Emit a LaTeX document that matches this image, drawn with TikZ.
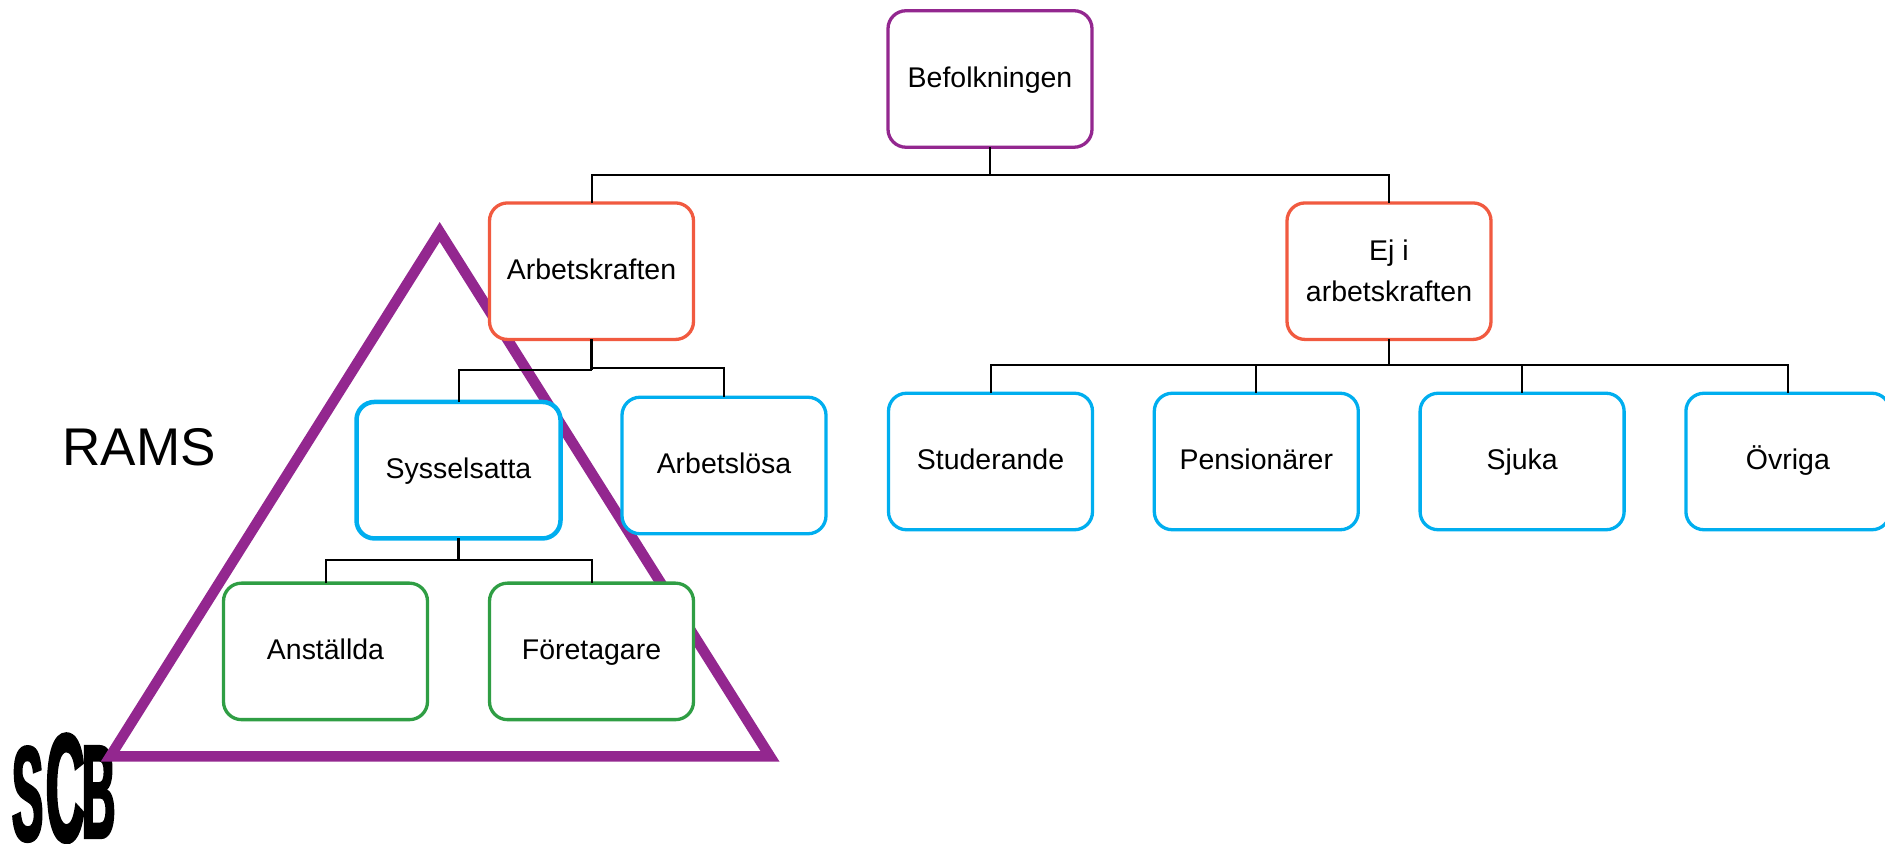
\documentclass[tikz,border=0pt]{standalone}
\usepackage{fontspec}
\setmainfont{Liberation Sans}
\newfontfamily\logofont[FakeStretch=0.345,FakeBold=1.7]{Liberation Sans Bold}
\usetikzlibrary{positioning}
\definecolor{ramspurple}{HTML}{93278F}
\definecolor{kraftred}{HTML}{F15A40}
\definecolor{groupblue}{HTML}{00AEEF}
\definecolor{workgreen}{HTML}{2F9E44}
\begin{document}
\begin{tikzpicture}[
    box/.style={rectangle, draw=black, fill=white, rounded corners=0.18cm, line width=0.033cm, outer sep=0pt, minimum width=2.04cm, minimum height=1.365cm, align=center, font=\fontsize{8.1}{11.7}\selectfont},
    one_line/.style={text height=0.25cm, text depth=0.086cm},
    top_box/.style={box, one_line, draw=ramspurple},
    kraft_box/.style={box, draw=kraftred},
    group_box/.style={box, one_line, draw=groupblue},
    syssel_box/.style={box, one_line, draw=groupblue, line width=0.045cm},
    work_box/.style={box, one_line, draw=workgreen},
    link/.style={draw=black, line width=0.02cm},
    stem/.style={draw=black, line width=0.025cm},
    logo/.style={inner sep=0pt, outer sep=0pt, anchor=south west}
]
    \useasboundingbox (0,0) rectangle (18.85,-8.44);
    % Logotyp
    \node[logo, font=\logofont\fontsize{38.5}{38.5}\selectfont] (logos) at (0.12,-8.42) {S};
    \node[logo, font=\logofont\fontsize{44}{44}\selectfont] (logoc) at (0.46,-8.43) {C};
    \node[logo, font=\logofont\fontsize{38}{38}\selectfont] (logob) at (0.82,-8.38) {B};
    % Triangeln ligger under rutorna
    \draw[draw=ramspurple, line width=0.105cm, miter limit=10] (4.397,-2.319) -- (7.70,-7.564) -- (1.102,-7.564) -- cycle;
    \node[font=\fontsize{15.1}{19}\selectfont] (rams) at (1.39,-4.47) {RAMS};

    % Rad 1
    \node[top_box] (befolkningen) at (9.9,-0.79) {Befolkningen};
    % Rad 2
    \node[kraft_box, one_line, below=0.557cm of befolkningen, xshift=-3.985cm] (arbetskraften) {Arbetskraften};
    \node[kraft_box, below=0.557cm of befolkningen, xshift=3.99cm] (ejkraft) {Ej i\\arbetskraften};
    % Rad 3
    \node[syssel_box, below=0.625cm of arbetskraften, xshift=-1.33cm] (sysselsatta) {Sysselsatta};
    \node[group_box, below=0.578cm of arbetskraften, xshift=1.325cm] (arbetslosa) {Arbetslösa};
    \node[group_box, below=0.538cm of ejkraft, xshift=-3.985cm] (studerande) {Studerande};
    \node[group_box, right=0.618cm of studerande] (pensionarer) {Pensionärer};
    \node[group_box, right=0.618cm of pensionarer] (sjuka) {Sjuka};
    \node[group_box, right=0.618cm of sjuka] (ovriga) {Övriga};
    % Rad 4
    \node[work_box, below=0.447cm of sysselsatta, xshift=-1.33cm] (anstallda) {Anställda};
    \node[work_box, below=0.447cm of sysselsatta, xshift=1.33cm] (foretagare) {Företagare};

    % Linjer
    \draw[stem] (befolkningen.south) -- ++(0,-0.28);
    \draw[link] (befolkningen.south) ++(0,-0.28) -| (arbetskraften.north);
    \draw[link] (befolkningen.south) ++(0,-0.28) -| (ejkraft.north);
    \draw[stem] (arbetskraften.south) -- ++(0,-0.31);
    \draw[link] (arbetskraften.south) ++(0,-0.31) -| (sysselsatta.north);
    \draw[link] (arbetskraften.south) ++(0,-0.29) -| (arbetslosa.north);
    \draw[stem] (sysselsatta.south) -- ++(0,-0.22);
    \draw[link] (sysselsatta.south) ++(0,-0.22) -| (anstallda.north);
    \draw[link] (sysselsatta.south) ++(0,-0.22) -| (foretagare.north);
    \draw[stem] (ejkraft.south) -- ++(0,-0.26);
    \draw[link] (ejkraft.south) ++(0,-0.26) -| (studerande.north);
    \draw[link] (ejkraft.south) ++(0,-0.26) -| (pensionarer.north);
    \draw[link] (ejkraft.south) ++(0,-0.26) -| (sjuka.north);
    \draw[link] (ejkraft.south) ++(0,-0.26) -| (ovriga.north);
\end{tikzpicture}
\end{document}
